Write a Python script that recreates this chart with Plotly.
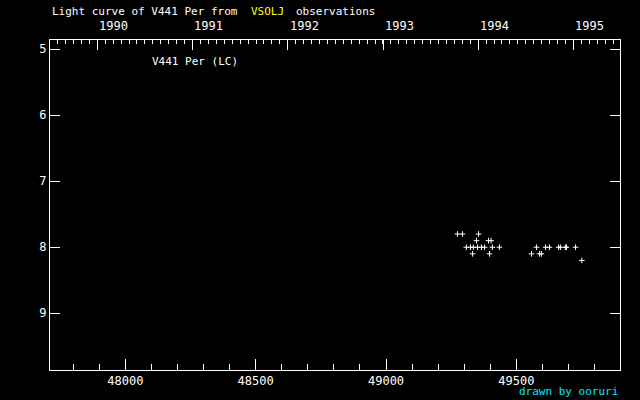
import plotly.graph_objects as go

# Observations (JD - 2400000, visual magnitude)
jd = [49274, 49293, 49355,
      49347, 49393, 49403,
      49308, 49324, 49335, 49351, 49366, 49378, 49408, 49435,
      49577, 49612, 49627, 49662, 49669, 49688, 49692, 49727,
      49332, 49397, 49558, 49589, 49596,
      49751]
mag = [7.8, 7.8, 7.8,
       7.9, 7.9, 7.9,
       8.0, 8.0, 8.0, 8.0, 8.0, 8.0, 8.0, 8.0,
       8.0, 8.0, 8.0, 8.0, 8.0, 8.0, 8.0, 8.0,
       8.1, 8.1, 8.1, 8.1, 8.1,
       8.2]

# Year starts (JD - 2400000) for the top axis
years = [1990, 1991, 1992, 1993, 1994, 1995]
year_jd = [47892.5, 48257.5, 48622.5, 48988.5, 49353.5, 49718.5]

x_range = [47711, 49897.5]
y_range = [9.86, 4.86]

MONO = "DejaVu Sans Mono"

fig = go.Figure()

fig.add_trace(go.Scatter(
    x=jd, y=mag, mode='markers',
    marker=dict(symbol='cross-thin', size=4, line=dict(color='white', width=1)),
    showlegend=False, hoverinfo='skip'
))

# invisible trace so the top axis is drawn
fig.add_trace(go.Scatter(
    x=x_range, y=[7, 7], xaxis='x2', mode='markers',
    marker=dict(opacity=0), showlegend=False, hoverinfo='skip'
))

fig.update_layout(
    width=640, height=400,
    paper_bgcolor='black', plot_bgcolor='black',
    margin=dict(l=50, r=20, t=40, b=30),
    font=dict(family=MONO, size=12, color='white'),
    xaxis=dict(
        range=x_range, showgrid=False, zeroline=False, automargin=False,
        showline=True, linecolor='white', linewidth=1, mirror=False,
        tickmode='linear', tick0=48000, dtick=500, tickformat='d',
        ticks='inside', ticklen=11, tickcolor='white', tickwidth=1,
        minor=dict(tickmode='linear', tick0=48000, dtick=100,
                   ticks='inside', ticklen=6, tickcolor='white', tickwidth=1),
        tickfont=dict(family=MONO, size=12, color='white'),
    ),
    xaxis2=dict(
        range=x_range, overlaying='x', side='top', showgrid=False, zeroline=False,
        automargin=False,
        showline=True, linecolor='white', linewidth=1,
        tickmode='array', tickvals=year_jd, showticklabels=False,
        ticks='inside', ticklen=10, tickcolor='white', tickwidth=1,
        minor=dict(tickmode='linear', tick0=year_jd[0], dtick=365.25 / 12,
                   ticks='inside', ticklen=4, tickcolor='white', tickwidth=1),
    ),
    yaxis=dict(
        range=y_range, showgrid=False, zeroline=False, automargin=False,
        showline=True, linecolor='white', linewidth=1, mirror='ticks',
        tickmode='linear', tick0=5, dtick=1,
        ticks='inside', ticklen=10, tickcolor='white', tickwidth=1,
        tickfont=dict(family=MONO, size=12, color='white'),
    ),
)

annotations = []
for yr, xv in zip(years, year_jd):
    annotations.append(dict(
        x=xv, y=1, xref='x', yref='paper', yshift=5,
        text=str(yr), showarrow=False, xanchor='left', yanchor='bottom',
        font=dict(family=MONO, size=12, color='white')
    ))

annotations += [
    dict(x=0, y=1, xref='paper', yref='paper', yshift=20,
         text='Light curve of V441 Per from', showarrow=False,
         xanchor='left', yanchor='bottom', font=dict(family=MONO, size=11, color='white')),
    dict(x=199 / 570, y=1, xref='paper', yref='paper', yshift=20,
         text='VSOLJ', showarrow=False,
         xanchor='left', yanchor='bottom', font=dict(family=MONO, size=11, color='yellow')),
    dict(x=244 / 570, y=1, xref='paper', yref='paper', yshift=20,
         text='observations', showarrow=False,
         xanchor='left', yanchor='bottom', font=dict(family=MONO, size=11, color='white')),
    dict(x=100 / 570, y=1, xref='paper', yref='paper', yshift=-21,
         text='V441 Per (LC)', showarrow=False,
         xanchor='left', yanchor='middle', font=dict(family=MONO, size=11, color='white')),
    dict(x=1, y=0, xref='paper', yref='paper', yshift=-21,
         text='drawn by ooruri', showarrow=False,
         xanchor='right', yanchor='middle', font=dict(family=MONO, size=11, color='#00e8ff')),
]
fig.update_layout(annotations=annotations)

fig.write_html("out.html", config={'displayModeBar': False},
               post_script="document.body.style.margin='0';")
